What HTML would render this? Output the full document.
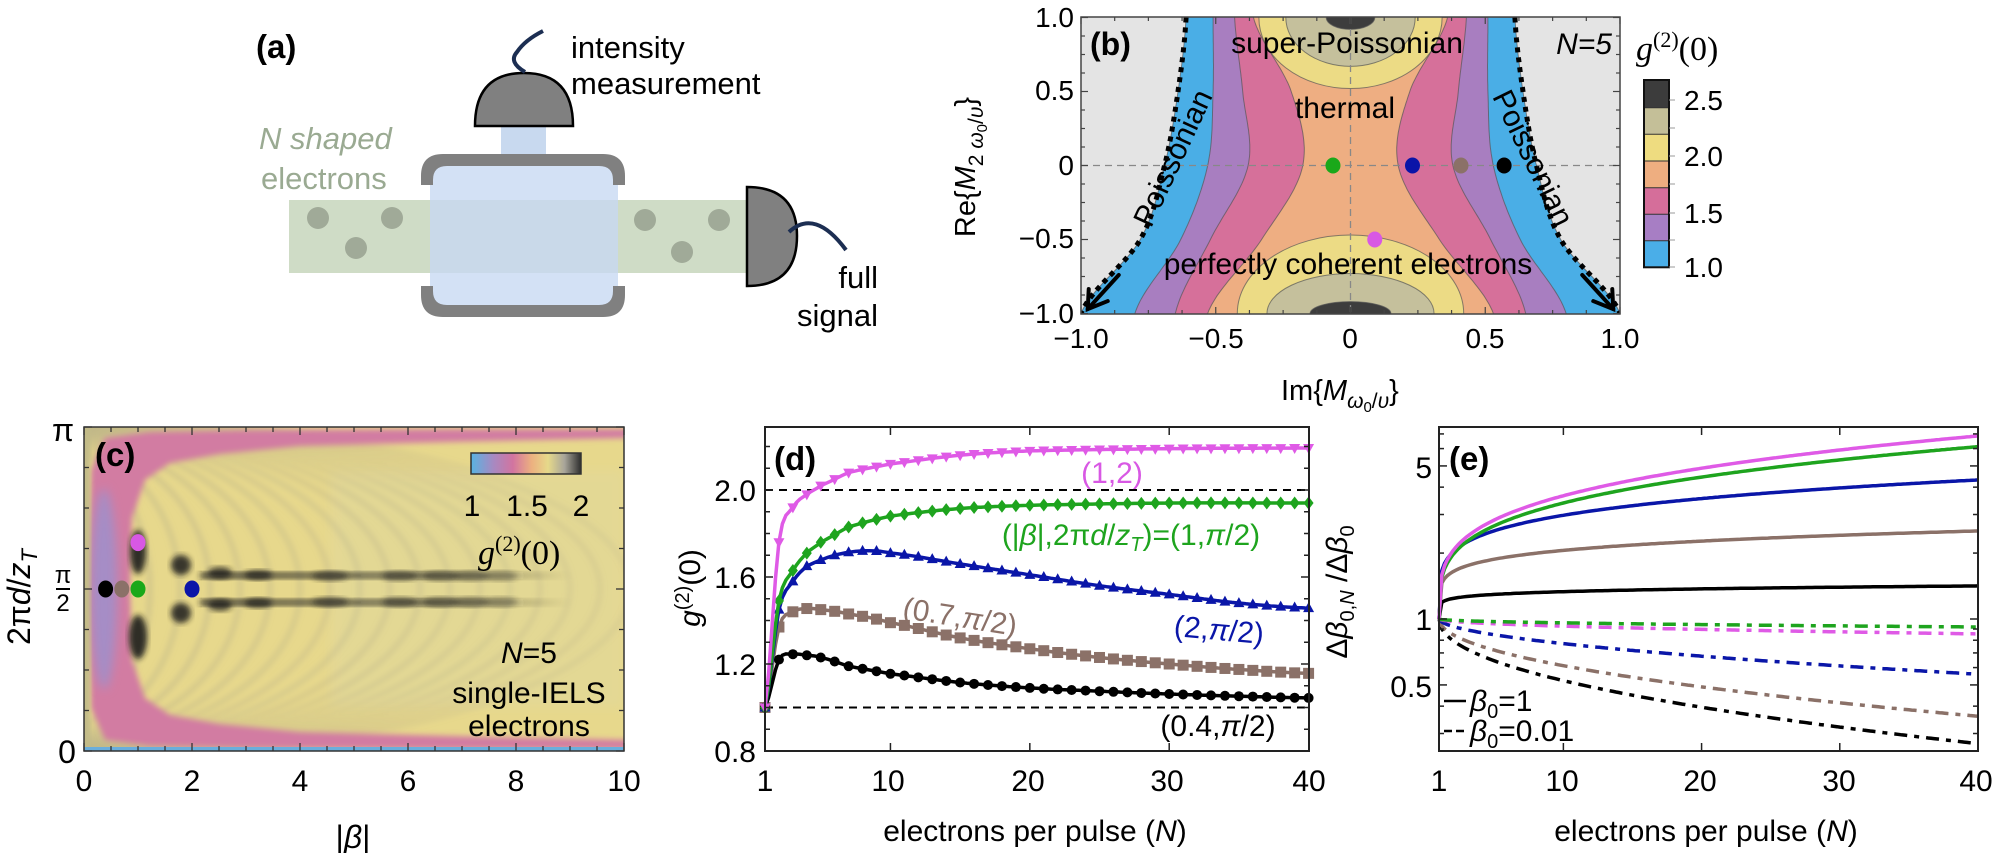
<!DOCTYPE html>
<html><head><meta charset="utf-8">
<style>
html,body{margin:0;padding:0;background:#fff;}
svg{display:block;}
text{font-family:"Liberation Sans",Arial,sans-serif;}
.serif{font-family:"Liberation Serif","DejaVu Serif",serif;}
</style></head>
<body>
<svg id="fig" width="1996" height="853" viewBox="0 0 1996 853" xmlns="http://www.w3.org/2000/svg">
<defs>
<filter id="bl2" x="-20%" y="-20%" width="140%" height="140%"><feGaussianBlur stdDeviation="2"/></filter>
<filter id="bl3" x="-20%" y="-20%" width="140%" height="140%"><feGaussianBlur stdDeviation="3"/></filter>
<filter id="bl5" x="-50%" y="-50%" width="200%" height="200%"><feGaussianBlur stdDeviation="5"/></filter>
<clipPath id="clipB"><rect x="1081" y="17" width="539" height="297"/></clipPath>
<clipPath id="clipC"><rect x="84" y="427" width="540" height="324"/></clipPath>
<linearGradient id="cbar" x1="0" x2="1" y1="0" y2="0">
<stop offset="0" stop-color="#58b4e2"/><stop offset="0.2" stop-color="#a68ac2"/><stop offset="0.38" stop-color="#d274a0"/><stop offset="0.55" stop-color="#ecb080"/><stop offset="0.7" stop-color="#e6d98a"/><stop offset="0.85" stop-color="#a8a59a"/><stop offset="1" stop-color="#2e2e2e"/>
</linearGradient>
<linearGradient id="streak" x1="0" x2="1" y1="0" y2="0">
<stop offset="0" stop-color="#1a1a1a" stop-opacity="0.7"/><stop offset="0.6" stop-color="#1a1a1a" stop-opacity="0.55"/><stop offset="1" stop-color="#1a1a1a" stop-opacity="0"/>
</linearGradient>
</defs>

<!-- ================= Panel (a) ================= -->
<text x="256" y="58" font-size="33" font-weight="bold">(a)</text>
<rect x="289" y="200" width="458" height="73" fill="#cfdcc6"/>
<g fill="#a0aa98">
<circle cx="318" cy="218" r="11"/><circle cx="392" cy="218" r="11"/><circle cx="356" cy="248" r="11"/>
<circle cx="645" cy="220" r="11"/><circle cx="719" cy="220" r="11"/><circle cx="682" cy="252" r="11"/>
</g>
<rect x="501" y="126" width="45" height="30" fill="#c8d9ef"/>
<rect x="430" y="166" width="188" height="140" rx="14" fill="rgb(198,216,242)" fill-opacity="0.78"/>
<path d="M421 185 L421 176 Q421 154 443 154 L603 154 Q625 154 625 176 L625 185 L613 185 L613 180 Q613 166 599 166 L447 166 Q433 166 433 180 L433 185 Z" fill="#808080"/>
<path d="M421 286 L421 295 Q421 317 443 317 L603 317 Q625 317 625 295 L625 286 L613 286 L613 291 Q613 305 599 305 L447 305 Q433 305 433 291 L433 286 Z" fill="#808080"/>
<path d="M475 126 L573 126 Q573 73 524 73 Q475 73 475 126 Z" fill="#808080" stroke="#000" stroke-width="2.5"/>
<path d="M525 72 Q508 62 517 52 Q525 40 543 31" fill="none" stroke="#1c2e52" stroke-width="4"/>
<path d="M747 187 L747 286 Q797 286 797 236 Q797 187 747 187 Z" fill="#808080" stroke="#000" stroke-width="2.5"/>
<path d="M789 232 Q815 208 846 250" fill="none" stroke="#1c2e52" stroke-width="4"/>
<text x="571" y="58" font-size="31">intensity</text>
<text x="571" y="94" font-size="31">measurement</text>
<text x="259" y="149" font-size="31" font-style="italic" fill="#9aaa92">N shaped</text>
<text x="261" y="189" font-size="31" fill="#9aaa92">electrons</text>
<text x="878" y="288" font-size="31" text-anchor="end">full</text>
<text x="878" y="326" font-size="31" text-anchor="end">signal</text>

<!-- ================= Panel (b) ================= -->
<g clip-path="url(#clipB)">
<rect x="1081" y="17" width="539" height="297" fill="#e4e4e4"/>
<g id="bRegions"></g>
<line x1="1350.5" y1="17" x2="1350.5" y2="314" stroke="#888" stroke-width="1.3" stroke-dasharray="7 5"/>
<line x1="1081" y1="165.5" x2="1620" y2="165.5" stroke="#888" stroke-width="1.3" stroke-dasharray="7 5"/>
<g id="bDots"></g>
</g>
<rect x="1081" y="17" width="539" height="297" fill="none" stroke="#444" stroke-width="1.5"/>
<g id="bTicks" stroke="#444" stroke-width="1.2"></g>
<g id="bArrows" stroke="#000" stroke-width="4" fill="none" stroke-linecap="round"></g>
<text x="1090" y="55" font-size="32" font-weight="bold">(b)</text>
<text x="1347" y="53" font-size="30" text-anchor="middle">super-Poissonian</text>
<text x="1345" y="118" font-size="30" text-anchor="middle">thermal</text>
<text x="1348" y="274" font-size="30" text-anchor="middle">perfectly coherent electrons</text>
<text x="1612" y="54" font-size="30" font-style="italic" text-anchor="end">N=5</text>
<text transform="translate(1173,158) rotate(-65)" font-size="30" text-anchor="middle" dy="10">Poissonian</text>
<text transform="translate(1533,158) rotate(64)" font-size="30" text-anchor="middle" dy="10">Poissonian</text>
<g font-size="28" text-anchor="end">
<text x="1074" y="27">1.0</text><text x="1074" y="100">0.5</text><text x="1074" y="175">0</text><text x="1074" y="248">−0.5</text><text x="1074" y="323">−1.0</text>
</g>
<g font-size="28" text-anchor="middle">
<text x="1081" y="348">−1.0</text><text x="1216" y="348">−0.5</text><text x="1350" y="348">0</text><text x="1485" y="348">0.5</text><text x="1620" y="348">1.0</text>
</g>
<text transform="translate(975,167) rotate(-90)" font-size="29" text-anchor="middle">Re{<tspan font-style="italic">M</tspan><tspan font-size="21" dy="8">2 <tspan font-style="italic">ω</tspan><tspan font-size="15" dy="4">0</tspan><tspan dy="-4">/</tspan><tspan font-style="italic">υ</tspan></tspan><tspan dy="-8">}</tspan></text>
<text x="1281" y="400" font-size="29">Im{<tspan font-style="italic">M</tspan><tspan font-size="21" dy="8" font-style="italic">ω</tspan><tspan font-size="15" dy="4">0</tspan><tspan font-size="21" dy="-4">/</tspan><tspan font-size="21" font-style="italic">υ</tspan><tspan dy="-8">}</tspan></text>
<g id="bCbar"></g>
<g font-size="28">
<text x="1684" y="110">2.5</text><text x="1684" y="166">2.0</text><text x="1684" y="223">1.5</text><text x="1684" y="277">1.0</text>
</g>
<text class="serif" x="1636" y="60" font-size="34"><tspan font-style="italic">g</tspan><tspan font-size="22" dy="-13">(2)</tspan><tspan dy="13">(0)</tspan></text>

<!-- ================= Panel (c) ================= -->
<g clip-path="url(#clipC)">
<rect x="84" y="427" width="540" height="324" fill="#e7d88c"/>
<rect x="330" y="470" width="294" height="238" fill="#e2d89a" opacity="0.6" filter="url(#bl5)"/>
<g id="cRipples" filter="url(#bl3)"></g>
<path fill-rule="evenodd" filter="url(#bl3)" fill="#d27ca2" d="M630 429 L450 429 L250 430 L150 432 L105 438 L91 470 L89 589 L91 708 L105 740 L150 746 L250 748 L450 749 L630 749 L630 740 L450 736 L300 732 L220 724 L170 715 L145 698 L132 660 L130 589 L132 518 L145 480 L170 463 L220 454 L300 446 L450 442 L630 438 Z"/>
<ellipse cx="104" cy="589" rx="13" ry="100" fill="#a58dc6" filter="url(#bl5)"/>
<rect x="80" y="427" width="10" height="324" fill="#c2bb88" filter="url(#bl2)"/>
<g id="cDark" fill="#1a1a1a"></g>
<rect x="84" y="747" width="540" height="4" fill="#6aaedc"/>
</g>
<rect x="84" y="427" width="540" height="324" fill="none" stroke="#333" stroke-width="1.5"/>
<g id="cTicks" stroke="#333" stroke-width="1.3"></g>
<g id="cDots"></g>
<text x="95" y="466" font-size="33" font-weight="bold">(c)</text>
<rect x="471" y="453" width="110" height="21" fill="url(#cbar)" stroke="#333" stroke-width="1.5"/>
<g font-size="30" text-anchor="middle"><text x="472" y="516">1</text><text x="527" y="516">1.5</text><text x="581" y="516">2</text></g>
<text class="serif" x="478" y="564" font-size="34"><tspan font-style="italic">g</tspan><tspan font-size="22" dy="-13">(2)</tspan><tspan dy="13">(0)</tspan></text>
<text x="529" y="663" font-size="30" text-anchor="middle"><tspan font-style="italic">N</tspan>=5</text>
<text x="529" y="703" font-size="30" text-anchor="middle">single-IELS</text>
<text x="529" y="736" font-size="30" text-anchor="middle">electrons</text>
<g font-size="30" text-anchor="middle">
<text x="84" y="791">0</text><text x="192" y="791">2</text><text x="300" y="791">4</text><text x="408" y="791">6</text><text x="516" y="791">8</text><text x="624" y="791">10</text>
</g>
<text x="63" y="441" font-size="32" text-anchor="middle">π</text>
<text x="63" y="583" font-size="24" text-anchor="middle">π</text>
<line x1="56" y1="589" x2="70" y2="589" stroke="#000" stroke-width="2"/>
<text x="63" y="611" font-size="24" text-anchor="middle">2</text>
<text x="67" y="763" font-size="32" text-anchor="middle">0</text>
<text transform="translate(30,597) rotate(-90)" font-size="32" text-anchor="middle">2π<tspan font-style="italic">d</tspan>/<tspan font-style="italic">z</tspan><tspan font-size="22" dy="7" font-style="italic">T</tspan></text>
<text x="353" y="848" font-size="32" text-anchor="middle">|<tspan font-style="italic">β</tspan>|</text>

<!-- ================= Panel (d) ================= -->
<rect x="765" y="427" width="544" height="324" fill="#fff"/>
<line x1="765" y1="490" x2="1309" y2="490" stroke="#000" stroke-width="2" stroke-dasharray="8 6"/>
<line x1="765" y1="707.5" x2="1309" y2="707.5" stroke="#000" stroke-width="2" stroke-dasharray="8 6"/>
<g id="dCurves"></g>
<rect x="765" y="427" width="544" height="324" fill="none" stroke="#222" stroke-width="2"/>
<g id="dTicks" stroke="#222" stroke-width="1.5"></g>
<text x="774" y="470" font-size="33" font-weight="bold">(d)</text>
<text x="1112" y="483" font-size="30" text-anchor="middle" fill="#d858e4">(1,2)</text>
<text x="1131" y="545" font-size="30" text-anchor="middle" fill="#1ea41e">(|<tspan font-style="italic">β</tspan>|,2π<tspan font-style="italic">d</tspan>/<tspan font-style="italic">z</tspan><tspan font-size="20" dy="6" font-style="italic">T</tspan><tspan dy="-6">)=(1,</tspan><tspan font-style="italic">π</tspan>/2)</text>
<text transform="translate(960,617) rotate(9)" font-size="30" text-anchor="middle" dy="10" fill="#8b7168">(0.7,<tspan font-style="italic">π</tspan>/2)</text>
<text transform="translate(1219,630) rotate(5)" font-size="30" text-anchor="middle" dy="10" fill="#0a16a8">(2,<tspan font-style="italic">π</tspan>/2)</text>
<text x="1218" y="736" font-size="30" text-anchor="middle">(0.4,<tspan font-style="italic">π</tspan>/2)</text>
<g font-size="30" text-anchor="end">
<text x="756" y="501">2.0</text><text x="756" y="588">1.6</text><text x="756" y="675">1.2</text><text x="756" y="762">0.8</text>
</g>
<g font-size="30" text-anchor="middle">
<text x="765" y="791">1</text><text x="888" y="791">10</text><text x="1028" y="791">20</text><text x="1167" y="791">30</text><text x="1309" y="791">40</text>
</g>
<text transform="translate(700,588) rotate(-90)" font-size="30" text-anchor="middle"><tspan font-style="italic">g</tspan><tspan font-size="20" dy="-11">(2)</tspan><tspan dy="11">(0)</tspan></text>
<text x="1035" y="841" font-size="30" text-anchor="middle">electrons per pulse (<tspan font-style="italic">N</tspan>)</text>

<!-- ================= Panel (e) ================= -->
<g id="eCurves"></g>
<rect x="1439" y="427" width="539" height="324" fill="none" stroke="#222" stroke-width="2"/>
<g id="eTicks" stroke="#222" stroke-width="1.5"></g>
<text x="1449" y="470" font-size="33" font-weight="bold">(e)</text>
<g font-size="30" text-anchor="end">
<text x="1432" y="478">5</text><text x="1432" y="630">1</text><text x="1432" y="697">0.5</text>
</g>
<g font-size="30" text-anchor="middle">
<text x="1439" y="791">1</text><text x="1562" y="791">10</text><text x="1700" y="791">20</text><text x="1839" y="791">30</text><text x="1976" y="791">40</text>
</g>
<line x1="1444" y1="701" x2="1466" y2="701" stroke="#000" stroke-width="2.5"/>
<text x="1470" y="711" font-size="30"><tspan font-style="italic">β</tspan><tspan font-size="20" dy="7">0</tspan><tspan dy="-7">=1</tspan></text>
<line x1="1444" y1="731" x2="1466" y2="731" stroke="#000" stroke-width="2.5" stroke-dasharray="8 4"/>
<text x="1470" y="741" font-size="30"><tspan font-style="italic">β</tspan><tspan font-size="20" dy="7">0</tspan><tspan dy="-7">=0.01</tspan></text>
<text transform="translate(1347,592) rotate(-90)" font-size="30" text-anchor="middle">Δ<tspan font-style="italic">β</tspan><tspan font-size="20" dy="7">0,<tspan font-style="italic">N</tspan></tspan><tspan dy="-7"> /Δ</tspan><tspan font-style="italic">β</tspan><tspan font-size="20" dy="7">0</tspan></text>
<text x="1706" y="841" font-size="30" text-anchor="middle">electrons per pulse (<tspan font-style="italic">N</tspan>)</text>
</svg>

<script>
(function(){
var NS="http://www.w3.org/2000/svg";
function el(tag,attrs,parent){var e=document.createElementNS(NS,tag);for(var k in attrs)e.setAttribute(k,attrs[k]);if(parent)parent.appendChild(e);return e;}
function $(id){return document.getElementById(id);}
function cr(p,t){
  var n=p.length; if(t<=0)return p[0]; if(t>=n-1)return p[n-1];
  var i=Math.floor(t),f=t-i;
  var p0=p[Math.max(i-1,0)],p1=p[i],p2=p[i+1],p3=p[Math.min(i+2,n-1)];
  return 0.5*((2*p1)+(-p0+p2)*f+(2*p0-5*p1+4*p2-p3)*f*f+(-p0+3*p1-3*p2+p3)*f*f*f);
}
function interpXY(xs,ys,x){
  var i=0; while(i<xs.length-2 && x>xs[i+1]) i++;
  var f=(x-xs[i])/(xs[i+1]-xs[i]);
  var y0=ys[Math.max(i-1,0)],y1=ys[i],y2=ys[i+1],y3=ys[Math.min(i+2,ys.length-1)];
  var v=0.5*((2*y1)+(-y0+y2)*f+(2*y0-5*y1+4*y2-y3)*f*f+(-y0+3*y1-3*y2+y3)*f*f*f);
  var lo=Math.min(y1,y2),hi=Math.max(y1,y2);
  return Math.max(lo-0.03,Math.min(hi+0.03,v));
}
// ---------- panel b ----------
var bx=function(x){return 1350.5+x*269.5;}, by=function(y){return 165.5-y*148;};
var levels=[
 {c:"#4aaee6",v:[0.61,0.64,0.69,0.78,1.0]},
 {c:"#a87ec0",v:[0.51,0.51,0.53,0.63,0.80]},
 {c:"#d6709a",v:[0.43,0.40,0.38,0.52,0.65]},
 {c:"#eeae82",v:[0.36,0.22,0.177,0.33,0.53]}
];
var g=$("bRegions");
levels.forEach(function(L,li){
  var R=[],Lf=[];
  for(var k=0;k<=100;k++){var y=1-k*0.02;var t=(1-y)/0.5;var x=cr(L.v,t);R.push(bx(x).toFixed(1)+" "+by(y).toFixed(1));Lf.unshift(bx(-x).toFixed(1)+" "+by(y).toFixed(1));}
  var d="M"+bx(-L.v[0]).toFixed(1)+" "+(by(1)-5)+" L"+R.join(" L")+" L"+bx(L.v[4]).toFixed(1)+" "+(by(-1)+5)+" L"+bx(-L.v[4]).toFixed(1)+" "+(by(-1)+5)+" L"+Lf.join(" L")+" Z";
  el("path",{d:d,fill:L.c,stroke:"#555","stroke-width":"1","stroke-opacity":"0.7"},g);
});
[[1,0.34,0.48,"#ecdb85"],[1,0.24,0.33,"#c5c09c"],[1,0.09,0.08,"#3d3d3d"],
 [-1,0.42,0.53,"#ecdb85"],[-1,0.31,0.27,"#c5c09c"],[-1,0.15,0.08,"#3d3d3d"]].forEach(function(c){
  el("ellipse",{cx:bx(0),cy:by(c[0]),rx:c[1]*269.5,ry:c[2]*148,fill:c[3],stroke:"#555","stroke-width":"1","stroke-opacity":"0.7"},g);
});
var L0=levels[0].v;
[1,-1].forEach(function(s){
  var pts=[];for(var k=0;k<=100;k++){var y=1-k*0.02;pts.push(bx(s*cr(L0,(1-y)/0.5)).toFixed(1)+" "+by(y).toFixed(1));}
  el("path",{d:"M"+pts.join(" L"),fill:"none",stroke:"#000","stroke-width":"5","stroke-dasharray":"5 5"},$("bRegions"));
});
var bd=$("bDots");
[[-0.065,0,"#1aa81a"],[0.23,0,"#0a14a8"],[0.41,0,"#8b7168"],[0.57,0,"#000"],[0.09,-0.5,"#d858e4"]].forEach(function(p){
  el("ellipse",{cx:bx(p[0]),cy:by(p[1]),rx:7.5,ry:8,fill:p[2]},bd);
});
var ba=$("bArrows");
[1,-1].forEach(function(s){
  var x1=bx(s*0.86),y1=by(-0.74),x2=bx(s*0.975),y2=by(-0.97);
  el("line",{x1:x1,y1:y1,x2:x2,y2:y2},ba);
  el("path",{d:"M"+(x2-s*1)+" "+(y2-20)+" L"+x2+" "+y2+" L"+(x2-s*20)+" "+(y2-8)},ba);
});
var bt=$("bTicks");
for(var k=-8;k<=8;k++){var x=bx(k/8),y=by(k/8);var len=(k%4==0)?7:4;
  el("line",{x1:x,y1:314,x2:x,y2:314-len},bt);el("line",{x1:x,y1:17,x2:x,y2:17+len},bt);
  el("line",{x1:1081,y1:y,x2:1081+len,y2:y},bt);el("line",{x1:1620,y1:y,x2:1620-len,y2:y},bt);}
var cb=$("bCbar");var bnds=[80,107.7,134.3,161,187.7,214.3,240.7,267.3];var cols=["#3c3c3c","#c4bf98","#eedc80","#eeae80","#d56e9a","#a77ec4","#4aaee8"];
for(var i=0;i<7;i++){el("rect",{x:1644,y:bnds[i],width:25,height:bnds[i+1]-bnds[i],fill:cols[i]},cb);
  if(i>0)el("line",{x1:1644,y1:bnds[i],x2:1669,y2:bnds[i],stroke:"#333","stroke-width":"1"},cb);}
el("rect",{x:1644,y:80,width:25,height:187.3,fill:"none",stroke:"#111","stroke-width":"2"},cb);
[100,128,156,184,213,240,267].forEach(function(y){el("line",{x1:1669,y1:y,x2:1675,y2:y,stroke:"#999","stroke-width":"1"},cb);});

// ---------- panel c ----------
var cx=function(b){return 84+b*54;}, cyv=function(v){return 751-v*324;};
var rp=$("cRipples");
for(var k=0;k<17;k++){
  var rx=110+k*30, ry=150;
  el("ellipse",{cx:40,cy:589,rx:rx,ry:ry+k*1.5,fill:"none",stroke:"#9a9684","stroke-width":"5",opacity:(0.28-k*0.008).toFixed(3)},rp);
}
var cd=$("cDark");
function blob(x,y,rx,ry,op){el("ellipse",{cx:x,cy:y,rx:rx,ry:ry,opacity:op,filter:"url(#bl3)"},cd);}
blob(138,552,8,22,0.9);blob(138,637,9,22,0.9);
blob(181,565,10,10,0.85);blob(181,613,10,10,0.85);
blob(220,573,12,6,0.8);blob(220,605,12,6,0.8);
blob(258,575,14,5,0.75);blob(258,603,14,5,0.75);
el("rect",{x:200,y:572,width:370,height:7,fill:"url(#streak)",filter:"url(#bl3)"},cd);
el("rect",{x:200,y:599,width:370,height:7,fill:"url(#streak)",filter:"url(#bl3)"},cd);
[[330,0.55],[400,0.5],[440,0.5],[470,0.45],[500,0.35]].forEach(function(p){blob(p[0],576,18,5,p[1]);blob(p[0],602,18,5,p[1]);});
var ct=$("cTicks");
for(var k=0;k<=20;k++){var x=84+k*27;var len=(k%4==0)?8:5;
  el("line",{x1:x,y1:751,x2:x,y2:751-len},ct);el("line",{x1:x,y1:427,x2:x,y2:427+len},ct);}
for(var k=0;k<=8;k++){var y=751-k*40.5;var len=(k%4==0)?8:5;
  el("line",{x1:84,y1:y,x2:84+len,y2:y},ct);el("line",{x1:624,y1:y,x2:624-len,y2:y},ct);}
var cdots=$("cDots");
[[0.4,0.5,"#000"],[0.7,0.5,"#8b7168"],[1,0.5,"#1aa81a"],[2,0.5,"#0a14a8"],[1,0.643,"#d858e4"]].forEach(function(p){
  el("ellipse",{cx:cx(p[0]),cy:cyv(p[1]),rx:7.5,ry:8.5,fill:p[2]},cdots);
});

// ---------- panel d ----------
var dX=function(N){return 765+(N-1)*13.938;}, dY=function(v){return 751-(v-0.8)*217.5;};
var series=[
 {c:"#8b7168",m:"sq",pts:[[1,1],[2,1.37],[3,1.44],[4,1.455],[5,1.45],[7,1.43],[10,1.39],[15,1.32],[20,1.27],[25,1.23],[30,1.20],[35,1.175],[40,1.157]]},
 {c:"#000000",m:"ci",pts:[[1,1],[2,1.22],[3,1.245],[4,1.24],[5,1.23],[7,1.19],[10,1.155],[15,1.115],[20,1.09],[25,1.075],[30,1.062],[35,1.052],[40,1.044]]},
 {c:"#0a16a8",m:"tu",pts:[[1,1],[2,1.45],[3,1.58],[4,1.65],[6,1.70],[8,1.72],[10,1.71],[15,1.66],[20,1.61],[25,1.56],[30,1.52],[35,1.48],[40,1.457]]},
 {c:"#1ea41e",m:"di",pts:[[1,1],[2,1.49],[3,1.63],[4,1.71],[5,1.76],[7,1.83],[10,1.88],[15,1.915],[20,1.93],[30,1.94],[40,1.94]]},
 {c:"#df5ae6",m:"td",pts:[[1,1],[2,1.76],[3,1.92],[4,1.98],[5,2.02],[7,2.08],[10,2.12],[15,2.16],[20,2.18],[30,2.19],[40,2.193]]}
];
var dc=$("dCurves");
series.forEach(function(s){
  var xs=s.pts.map(function(p){return p[0];}),ys=s.pts.map(function(p){return p[1];});
  var pts=[];for(var N=1;N<=40.001;N+=0.25){pts.push(dX(N).toFixed(1)+" "+dY(interpXY(xs,ys,N)).toFixed(1));}
  el("path",{d:"M"+pts.join(" L"),fill:"none",stroke:s.c,"stroke-width":"3.5"},dc);
  for(var N=1;N<=40;N++){var x=dX(N),y=dY(interpXY(xs,ys,N));
    if(s.m=="sq")el("rect",{x:x-5.5,y:y-5.5,width:11,height:11,fill:s.c},dc);
    else if(s.m=="ci")el("circle",{cx:x,cy:y,r:5,fill:s.c},dc);
    else if(s.m=="tu")el("path",{d:"M"+x+" "+(y-6)+" L"+(x+5.5)+" "+(y+4)+" L"+(x-5.5)+" "+(y+4)+" Z",fill:s.c},dc);
    else if(s.m=="td")el("path",{d:"M"+x+" "+(y+6)+" L"+(x+5.5)+" "+(y-4)+" L"+(x-5.5)+" "+(y-4)+" Z",fill:s.c},dc);
    else el("path",{d:"M"+x+" "+(y-6.5)+" L"+(x+5)+" "+y+" L"+x+" "+(y+6.5)+" L"+(x-5)+" "+y+" Z",fill:s.c},dc);
  }
});
var dt=$("dTicks");
for(var v=0.8;v<=2.3;v+=0.1){var y=dY(v);var maj=Math.abs((v-0.8)/0.4-Math.round((v-0.8)/0.4))<0.01;var len=maj?8:5;
  el("line",{x1:765,y1:y,x2:765+len,y2:y},dt);el("line",{x1:1309,y1:y,x2:1309-len,y2:y},dt);}
[10,20,30].forEach(function(N){var x=dX(N);el("line",{x1:x,y1:751,x2:x,y2:743},dt);el("line",{x1:x,y1:427,x2:x,y2:435},dt);});

// ---------- panel e ----------
var eX=function(N){return 1439+(N-1)*13.82;}, eY=function(v){return 619-Math.log10(v)*219;};
var ec=$("eCurves");
var solid=[["#8b7168",0.402,0.17],["#000",0.151,0.13],["#0a16a8",0.635,0.2],["#1ea41e",0.787,0.27],["#df5ae6",0.836,0.27]];
var dashed=[["#000",-0.569,0.48],["#8b7168",-0.444,0.5],["#0a16a8",-0.252,0.55],["#df5ae6",-0.068,0.5],["#1ea41e",-0.0365,0.5]];
function curve(c,L,p,dash){
  var pts=[];for(var N=1;N<=40.001;N+=0.2){var t=(N-1)/39;var v=Math.pow(10,L*Math.pow(t,p));pts.push(eX(N).toFixed(1)+" "+eY(v).toFixed(1));}
  var a={d:"M"+pts.join(" L"),fill:"none",stroke:c,"stroke-width":"3.5"};
  if(dash)a["stroke-dasharray"]="13 7 5 7";
  el("path",a,ec);
}
dashed.forEach(function(s){curve(s[0],s[1],s[2],true);});
solid.forEach(function(s){curve(s[0],s[1],s[2],false);});
var et=$("eTicks");
[0.3,0.4,0.5,0.6,0.7,0.8,0.9,1,2,3,4,5,6,7].forEach(function(v){var y=eY(v);var maj=(v==0.5||v==1||v==5);var len=maj?8:5;
  el("line",{x1:1439,y1:y,x2:1439+len,y2:y},et);el("line",{x1:1978,y1:y,x2:1978-len,y2:y},et);});
[10,20,30].forEach(function(N){var x=eX(N);el("line",{x1:x,y1:751,x2:x,y2:743},et);el("line",{x1:x,y1:427,x2:x,y2:435},et);});
})();
</script>
</body></html>
